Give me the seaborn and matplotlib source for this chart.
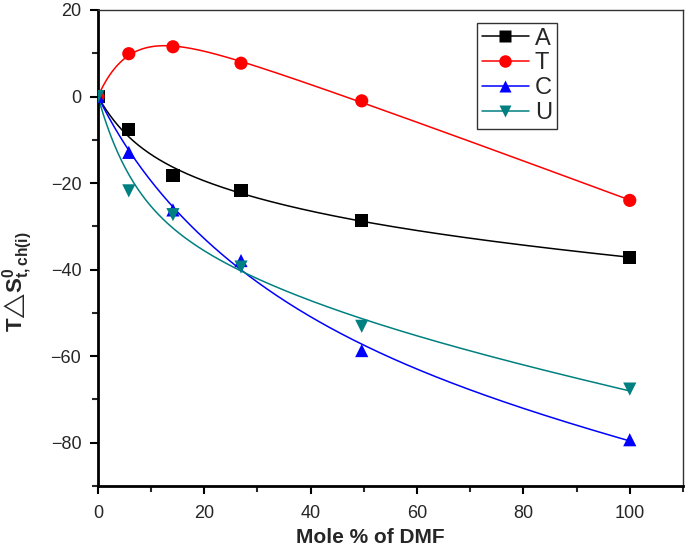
import numpy as np
import pandas as pd
import matplotlib
matplotlib.use("Agg")
import matplotlib.pyplot as plt
from matplotlib.lines import Line2D
from matplotlib.ticker import MultipleLocator
import seaborn as sns

# ---- data ----
mole_pct = [0, 5.8, 14.1, 26.9, 49.6, 100]
series_names = ["A", "T", "C", "U"]
A_vals = [0, -7.7, -18.2, -21.7, -28.7, -37.2]
T_vals = [0, 9.9, 11.5, 7.7, -1.0, -24.0]
C_vals = [0, -12.9, -26.2, -37.9, -58.7, -79.3]
U_vals = [0, -21.8, -27.3, -39.4, -53.1, -67.6]
x_ticks = [0, 20, 40, 60, 80, 100]
y_ticks = [-80, -60, -40, -20, 0, 20]

colors = {"A": "#000000", "T": "#ff0000", "C": "#0000ff", "U": "#008080"}
markers = {"A": "s", "T": "o", "C": "^", "U": "v"}

sns.set_style("ticks")
plt.rcParams["font.family"] = ["Liberation Sans", "DejaVu Sans"]
plt.rcParams["mathtext.fontset"] = "custom"
plt.rcParams["mathtext.rm"] = "Liberation Sans:bold"
plt.rcParams["mathtext.bf"] = "Liberation Sans:bold"
plt.rcParams["mathtext.it"] = "Liberation Sans:bold"
plt.rcParams["mathtext.sf"] = "Liberation Sans:bold"
plt.rcParams["mathtext.fallback"] = "stixsans"

values = {"A": A_vals, "T": T_vals, "C": C_vals, "U": U_vals}
pts = pd.DataFrame([(n, x, y) for n in series_names for x, y in zip(mole_pct, values[n])],
                   columns=["series", "x", "y"])

# smooth least-squares fitted curves (computed from the data)
def fit_curve(x, y, xs):
    x = np.asarray(x, float); y = np.asarray(y, float)
    def basis(t):
        return np.column_stack([1 - np.exp(-t / 6.0), 1 - np.exp(-t / 30.0), t])
    coef, *_ = np.linalg.lstsq(basis(x), y, rcond=None)
    return basis(xs) @ coef

xs = np.linspace(0, 100, 400)
curves = pd.DataFrame([(n, xv, yv) for n in series_names
                       for xv, yv in zip(xs, fit_curve(mole_pct, values[n], xs))],
                      columns=["series", "x", "y"])

fig = plt.figure(figsize=(6.85, 5.54), dpi=100)
ax = fig.add_axes([0.143, 0.1227, 0.854, 0.8593])

sns.lineplot(data=curves, x="x", y="y", hue="series", palette=colors,
             hue_order=series_names, linewidth=1.1, legend=False, ax=ax)
for n in series_names:
    sub = pts[pts.series == n]
    sns.scatterplot(data=sub, x="x", y="y", color=colors[n], marker=markers[n],
                    s=90, edgecolor="none", legend=False, ax=ax, zorder=3)

ax.set_xlim(0, 110)
ax.set_ylim(-90, 20)
ax.set_xticks(x_ticks)
ax.set_yticks(y_ticks)
ax.xaxis.set_minor_locator(MultipleLocator(10))
ax.yaxis.set_minor_locator(MultipleLocator(10))
ax.tick_params(axis="both", which="major", direction="out", length=6, width=1.5,
               labelsize=13, color="black")
ax.tick_params(axis="x", which="major", pad=8)
ax.tick_params(axis="y", which="major", pad=6)
ax.tick_params(axis="both", which="minor", direction="out", length=4, width=1.5)
ax.tick_params(top=False, right=False, which="both")
for s in ["left", "bottom"]:
    ax.spines[s].set_linewidth(2)
    ax.spines[s].set_color("black")
for s in ["top", "right"]:
    ax.spines[s].set_linewidth(1)
    ax.spines[s].set_color("#333333")
    ax.spines[s].set_visible(True)

ax.set_xlabel("Mole % of DMF", fontsize=15, fontweight="bold")
ax.xaxis.set_label_coords(0.465, -0.088)
ax.set_ylabel("T$\u25b3$S$^{0}_{t,ch(i)}$", fontsize=16, fontweight="bold")
ax.yaxis.set_label_coords(-0.108, 0.43)

handles = [Line2D([0], [0], color=colors[n], marker=markers[n], markersize=9,
                  markeredgecolor="none", linewidth=1.1) for n in series_names]
leg = ax.legend(handles, series_names, loc="upper left", bbox_to_anchor=(0.648, 0.973),
                frameon=True, fancybox=False, edgecolor="black", fontsize=17,
                handlelength=2.0, handletextpad=0.25, borderpad=0.2, labelspacing=0.12,
                borderaxespad=0)
leg.get_frame().set_linewidth(1)

fig.savefig("out.png", dpi=100)
